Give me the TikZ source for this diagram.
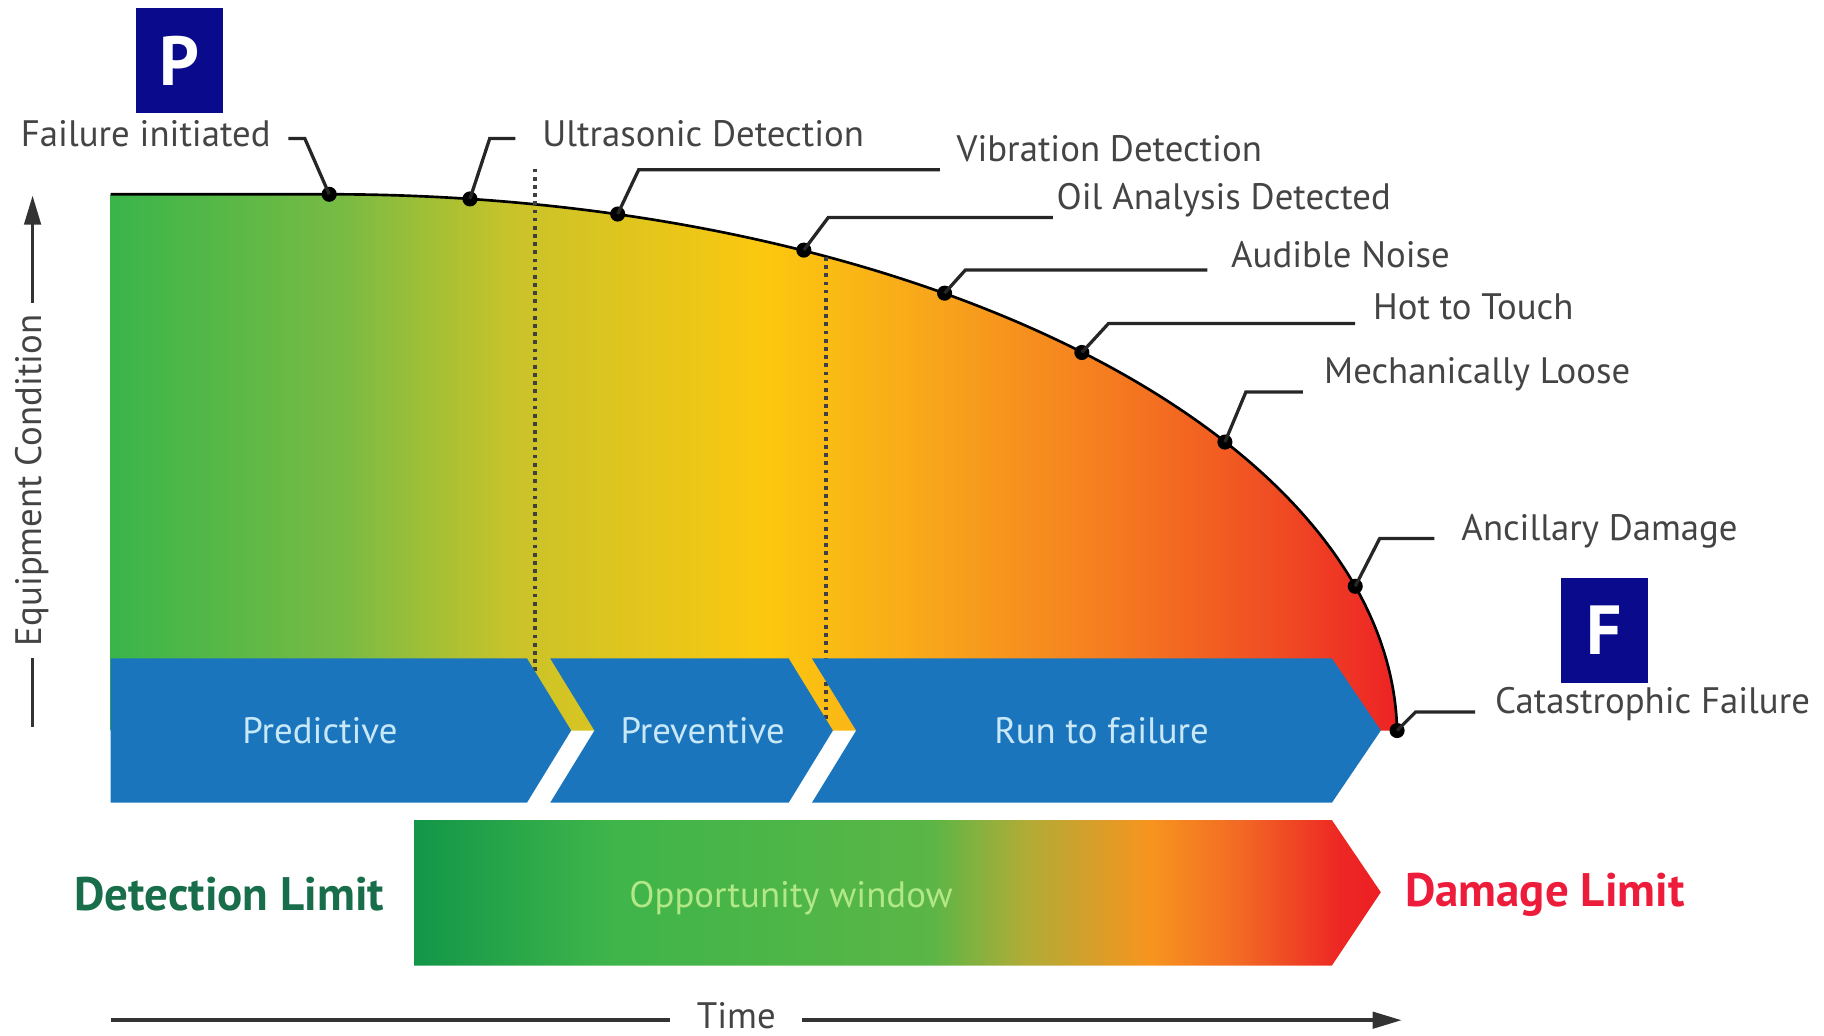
\documentclass[tikz,border=0pt]{standalone}
\usepackage{fontspec}
\setmainfont{PT Sans}
\usepackage{tikz}
\usetikzlibrary{arrows.meta, calc}
\definecolor{pf-navy}{RGB}{10,10,140}
\definecolor{pf-blue}{RGB}{27,117,188}
\definecolor{pf-ink}{RGB}{68,68,68}
\definecolor{pf-cyan}{RGB}{200,232,248}
\definecolor{pf-lime}{RGB}{178,232,135}
\definecolor{pf-dgreen}{RGB}{24,110,74}
\definecolor{pf-red}{RGB}{236,28,58}
\definecolor{c1}{RGB}{57,181,74}
\definecolor{c2}{RGB}{120,187,67}
\definecolor{c3}{RGB}{200,195,42}
\definecolor{c4}{RGB}{252,200,15}
\definecolor{c5}{RGB}{248,165,27}
\definecolor{c6}{RGB}{245,125,32}
\definecolor{c7}{RGB}{240,75,35}
\definecolor{c8}{RGB}{237,35,36}
\definecolor{o1}{RGB}{18,150,72}
\definecolor{o2}{RGB}{62,181,74}
\definecolor{o3}{RGB}{90,182,70}
\definecolor{o4}{RGB}{175,172,55}
\definecolor{o5}{RGB}{247,148,30}
\definecolor{o6}{RGB}{242,105,36}
\definecolor{o7}{RGB}{237,40,36}
\definecolor{o8}{RGB}{237,30,36}
\pgfdeclarehorizontalshading{condition}{100bp}{color(0bp)=(c1); color(25bp)=(c1); color(34bp)=(c2); color(40.5bp)=(c3); color(50.5bp)=(c4); color(57bp)=(c5); color(63.7bp)=(c6); color(70.4bp)=(c7); color(75bp)=(c8); color(100bp)=(c8)}
\pgfdeclarehorizontalshading{opportunity}{100bp}{color(0bp)=(o1); color(25bp)=(o1); color(34.9bp)=(o2); color(51.7bp)=(o3); color(56.5bp)=(o4); color(63.1bp)=(o5); color(67.7bp)=(o6); color(72.8bp)=(o7); color(75bp)=(o8); color(100bp)=(o8)}

\begin{document}
\begin{tikzpicture}[x=0.02cm, y=-0.02cm,
		every node/.style={font=\fontsize{18}{21}\selectfont},
		lbl/.style={anchor=west, inner sep=0, text=pf-ink},
		dot/.style={circle, fill=black, inner sep=0, minimum size=0.26cm},
		lead/.style={line width=1.6pt, draw=black!85},
		band/.style={fill=pf-blue},
		bandtxt/.style={text=pf-cyan},
		letter/.style={fill=pf-navy, text=white, minimum width=1.5cm, minimum height=1.82cm, font=\fontsize{34}{34}\selectfont\bfseries},
		limit/.style={font=\fontsize{23}{27}\selectfont\bfseries},
		axis/.style={line width=1.8pt, draw=black!80},
		sep/.style={line width=1.8pt, dash pattern=on 1.8pt off 2.2pt, draw=black!75}]
	\useasboundingbox (0,0) rectangle (1568,890);
	\shade[shading=condition] (95,628) -- (95,167) -- (283,167) .. controls (790,167) and (1195,375) .. (1201,628) -- cycle;
	\draw[line width=1.3pt] (95,167) -- (283,167) .. controls (790,167) and (1195,375) .. (1201,628);
	\draw[sep] (460,145) -- (460,600);
	\draw[sep] (710,221) -- (710,625);
	\fill[band] (95,566) -- (453,566) -- (491,628) -- (453,690) -- (95,690) -- cycle;
	\fill[band] (473,566) -- (678,566) -- (716,628) -- (678,690) -- (473,690) -- (511,628) -- cycle;
	\fill[band] (698,566) -- (1145,566) -- (1187,628) -- (1145,690) -- (698,690) -- (736,628) -- cycle;
	\node[bandtxt] (pr) at (275,628) {Predictive};
	\node[bandtxt] (pv) at (604,628) {Preventive};
	\node[bandtxt] (rf) at (947,628) {Run to failure};
	\shade[shading=opportunity] (356,705) -- (1145,705) -- (1187,767) -- (1145,830) -- (356,830) -- cycle;
	\node[text=pf-lime] (ow) at (680,772) {Opportunity window};
	\node[limit, text=pf-dgreen] (dl) at (197,769) {Detection Limit};
	\node[limit, text=pf-red] (dm) at (1328,769) {Damage Limit};
	\node[letter] (p) at (154,52) {P};
	\node[letter] (f) at (1379,542) {F};
	\node[lbl, anchor=east] (fi) at (233,115) {Failure initiated};
	\node[lbl] (ud) at (466,115) {Ultrasonic Detection};
	\node[lbl] (vd) at (822,128) {Vibration Detection};
	\node[lbl] (oa) at (908,172) {Oil Analysis Detected};
	\node[lbl] (an) at (1058,219) {Audible Noise};
	\node[lbl] (ht) at (1180,264) {Hot to Touch};
	\node[lbl] (ml) at (1138,322) {Mechanically Loose};
	\node[lbl] (ad) at (1256,457) {Ancillary Damage};
	\node[lbl] (cf) at (1285,605) {Catastrophic Failure};
	\node[dot] (d1) at (283,167) {};
	\node[dot] (d2) at (404,171) {};
	\node[dot] (d3) at (531,184) {};
	\node[dot] (d4) at (691,215) {};
	\node[dot] (d5) at (812,252) {};
	\node[dot] (d6) at (930,303) {};
	\node[dot] (d7) at (1053,380) {};
	\node[dot] (d8) at (1165,504) {};
	\node[dot] (d9) at (1201,628) {};
	\coordinate (k1) at (262,119);
	\coordinate (k2) at (421,119);
	\coordinate (k3) at (549,146);
	\coordinate (k4) at (712,187);
	\coordinate (k5) at (830,232);
	\coordinate (k6) at (953,278);
	\coordinate (k7) at (1071,337);
	\coordinate (k8) at (1186,463);
	\coordinate (k9) at (1217,612);
	\draw[lead, shorten >=0.3cm] (d1.center) -- (k1) -- (k1 -| fi.east);
	\draw[lead, shorten >=0.46cm] (d2.center) -- (k2) -- (k2 -| ud.west);
	\draw[lead, shorten >=0.28cm] (d3.center) -- (k3) -- (k3 -| vd.west);
	\draw[lead, shorten >=0.06cm] (d4.center) -- (k4) -- (k4 -| oa.west);
	\draw[lead, shorten >=0.4cm] (d5.center) -- (k5) -- (k5 -| an.west);
	\draw[lead, shorten >=0.3cm] (d6.center) -- (k6) -- (k6 -| ht.west);
	\draw[lead, shorten >=0.36cm] (d7.center) -- (k7) -- (k7 -| ml.west);
	\draw[lead, shorten >=0.46cm] (d8.center) -- (k8) -- (k8 -| ad.west);
	\draw[lead, shorten >=0.34cm] (d9.center) -- (k9) -- (k9 -| cf.west);
	\node[rotate=90, text=pf-ink, inner sep=0.2cm] (ec) at (28,413) {Equipment Condition};
	\coordinate (yb) at (28,625);
	\coordinate (yt) at (28,168);
	\draw[axis] (yb) -- (ec.west);
	\draw[axis, -{Triangle[length=0.5cm, width=0.28cm]}] (ec.east) -- (yt);
	\node[text=pf-ink, inner xsep=0.45cm] (tm) at (633,873) {Time};
	\coordinate (xl) at (95,877);
	\coordinate (xr) at (1205,877);
	\draw[axis] (xl) -- (xl -| tm.west);
	\draw[axis, -{Triangle[length=0.5cm, width=0.28cm]}] (xr -| tm.east) -- (xr);
\end{tikzpicture}
\end{document}
